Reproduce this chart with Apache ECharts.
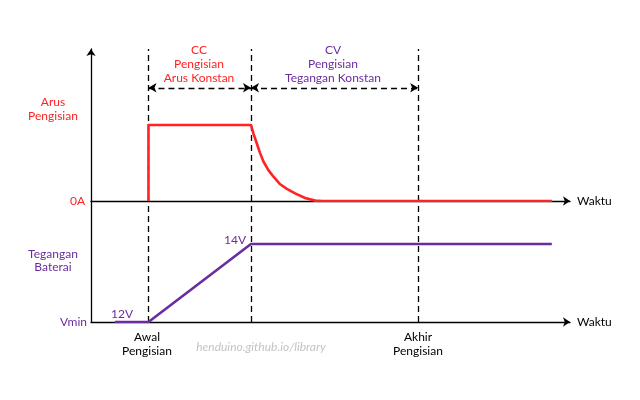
<!DOCTYPE html>
<html><head><meta charset="utf-8">
<script src="https://cdn.jsdelivr.net/npm/echarts@6/dist/echarts.min.js"></script>
<style>html,body{margin:0;padding:0;background:#fff}#c{width:640px;height:400px}</style>
</head><body><div id="c"></div>
<script>
// Time axis (arbitrary units), events
const tStart = 12;      // Awal Pengisian
const tCV = 33.4;       // switch CC -> CV
const tEnd = 68.3;      // Akhir Pengisian
// Charging current (A) over time
const currentT = [12, 12, 33.4, 33.9, 34.6, 35.3, 36.0, 37.0, 38.1, 39.5, 40.9, 42.6, 44.7, 46.8, 48.2, 96.2];
const currentA = [0, 1.0, 1.0, 0.89, 0.76, 0.63, 0.52, 0.41, 0.32, 0.22, 0.16, 0.10, 0.04, 0.005, 0, 0];
// Battery voltage (V) over time
const voltT = [5, 12, 33.4, 96.2];
const voltV = [12, 12, 14, 14];
const arrowLevel = 1.49;

const RED = '#ff2323', PURPLE = '#6a2c9e', BLACK = '#000';
const FONT = 'Lato';

const dashV = (xs) => ({
  silent: true, symbol: 'none', label: {show: false},
  lineStyle: {color: BLACK, type: [6, 4], width: 1.3},
  data: xs.map(x => ({xAxis: x}))
});

const chart = echarts.init(document.getElementById('c'), null, {renderer: 'canvas'});
const txt = (x, y, text, color, align, font) => ({
  type: 'text', x: x, y: y,
  style: {text: text, fill: color, font: font || ('12px ' + FONT), textAlign: align || 'center', textVerticalAlign: 'middle'}
});

chart.setOption({
  animation: false,
  grid: [
    {left: 91, width: 479, top: 49, height: 152},
    {left: 91, width: 479, top: 201, height: 121}
  ],
  xAxis: [
    {gridIndex: 0, type: 'value', min: 0, max: 100, axisLine: {show: true, onZero: false, symbol: ['none', 'arrow'], symbolSize: [7, 7], lineStyle: {color: BLACK, width: 1.3}}, axisTick: {show: false}, axisLabel: {show: false}, splitLine: {show: false}},
    {gridIndex: 1, type: 'value', min: 0, max: 100, axisLine: {show: true, onZero: false, symbol: ['none', 'arrow'], symbolSize: [7, 7], lineStyle: {color: BLACK, width: 1.3}}, axisTick: {show: false}, axisLabel: {show: false}, splitLine: {show: false}}
  ],
  yAxis: [
    {gridIndex: 0, type: 'value', min: 0, max: 2, axisLine: {show: true, symbol: ['none', 'arrow'], symbolSize: [7, 7], lineStyle: {color: BLACK, width: 1.3}}, axisTick: {show: false}, axisLabel: {show: false}, splitLine: {show: false}},
    {gridIndex: 1, type: 'value', min: 12, max: 15.1, axisLine: {show: true, lineStyle: {color: BLACK, width: 1.3}}, axisTick: {show: false}, axisLabel: {show: false}, splitLine: {show: false}}
  ],
  series: [
    {
      type: 'line', xAxisIndex: 0, yAxisIndex: 0, showSymbol: false, smooth: false,
      data: currentT.map((t, i) => [t, currentA[i]]),
      lineStyle: {color: RED, width: 2.6, join: 'round'}, z: 5,
      markLine: dashV([tStart, tCV, tEnd])
    },
    {
      type: 'line', xAxisIndex: 0, yAxisIndex: 0, showSymbol: false, data: [], z: 6,
      markLine: {
        silent: true, symbol: ['arrow', 'arrow'], symbolSize: [7, 8], label: {show: false},
        lineStyle: {color: BLACK, type: [6, 4], width: 1.3},
        data: [
          [{coord: [tStart, arrowLevel]}, {coord: [tCV, arrowLevel]}],
          [{coord: [tCV, arrowLevel]}, {coord: [tEnd, arrowLevel]}]
        ]
      }
    },
    {
      type: 'line', xAxisIndex: 1, yAxisIndex: 1, showSymbol: false,
      data: voltT.map((t, i) => [t, voltV[i]]),
      lineStyle: {color: PURPLE, width: 2.6}, z: 5,
      markLine: dashV([tStart, tCV, tEnd])
    }
  ],
  graphic: [
    txt(199, 50, 'CC', RED), txt(199, 64, 'Pengisian', RED), txt(199, 78, 'Arus Konstan', RED),
    txt(333, 50, 'CV', PURPLE), txt(333, 64, 'Pengisian', PURPLE), txt(333, 78, 'Tegangan Konstan', PURPLE),
    txt(53, 102, 'Arus', RED), txt(53, 116, 'Pengisian', RED),
    txt(85, 201, '0A', RED, 'right'),
    txt(53, 254, 'Tegangan', PURPLE), txt(53, 267, 'Baterai', PURPLE),
    txt(87, 322, 'Vmin', PURPLE, 'right'),
    txt(122, 314, '12V', PURPLE), txt(235, 240, '14V', PURPLE),
    txt(147, 337, 'Awal', BLACK), txt(147, 351, 'Pengisian', BLACK),
    txt(418, 337, 'Akhir', BLACK), txt(418, 351, 'Pengisian', BLACK),
    txt(577, 201, 'Waktu', BLACK, 'left'), txt(577, 322, 'Waktu', BLACK, 'left'),
    txt(261, 347, 'henduino.github.io/library', '#c4c4c4', 'center', 'italic 12px ' + FONT)
  ]
});
</script></body></html>
